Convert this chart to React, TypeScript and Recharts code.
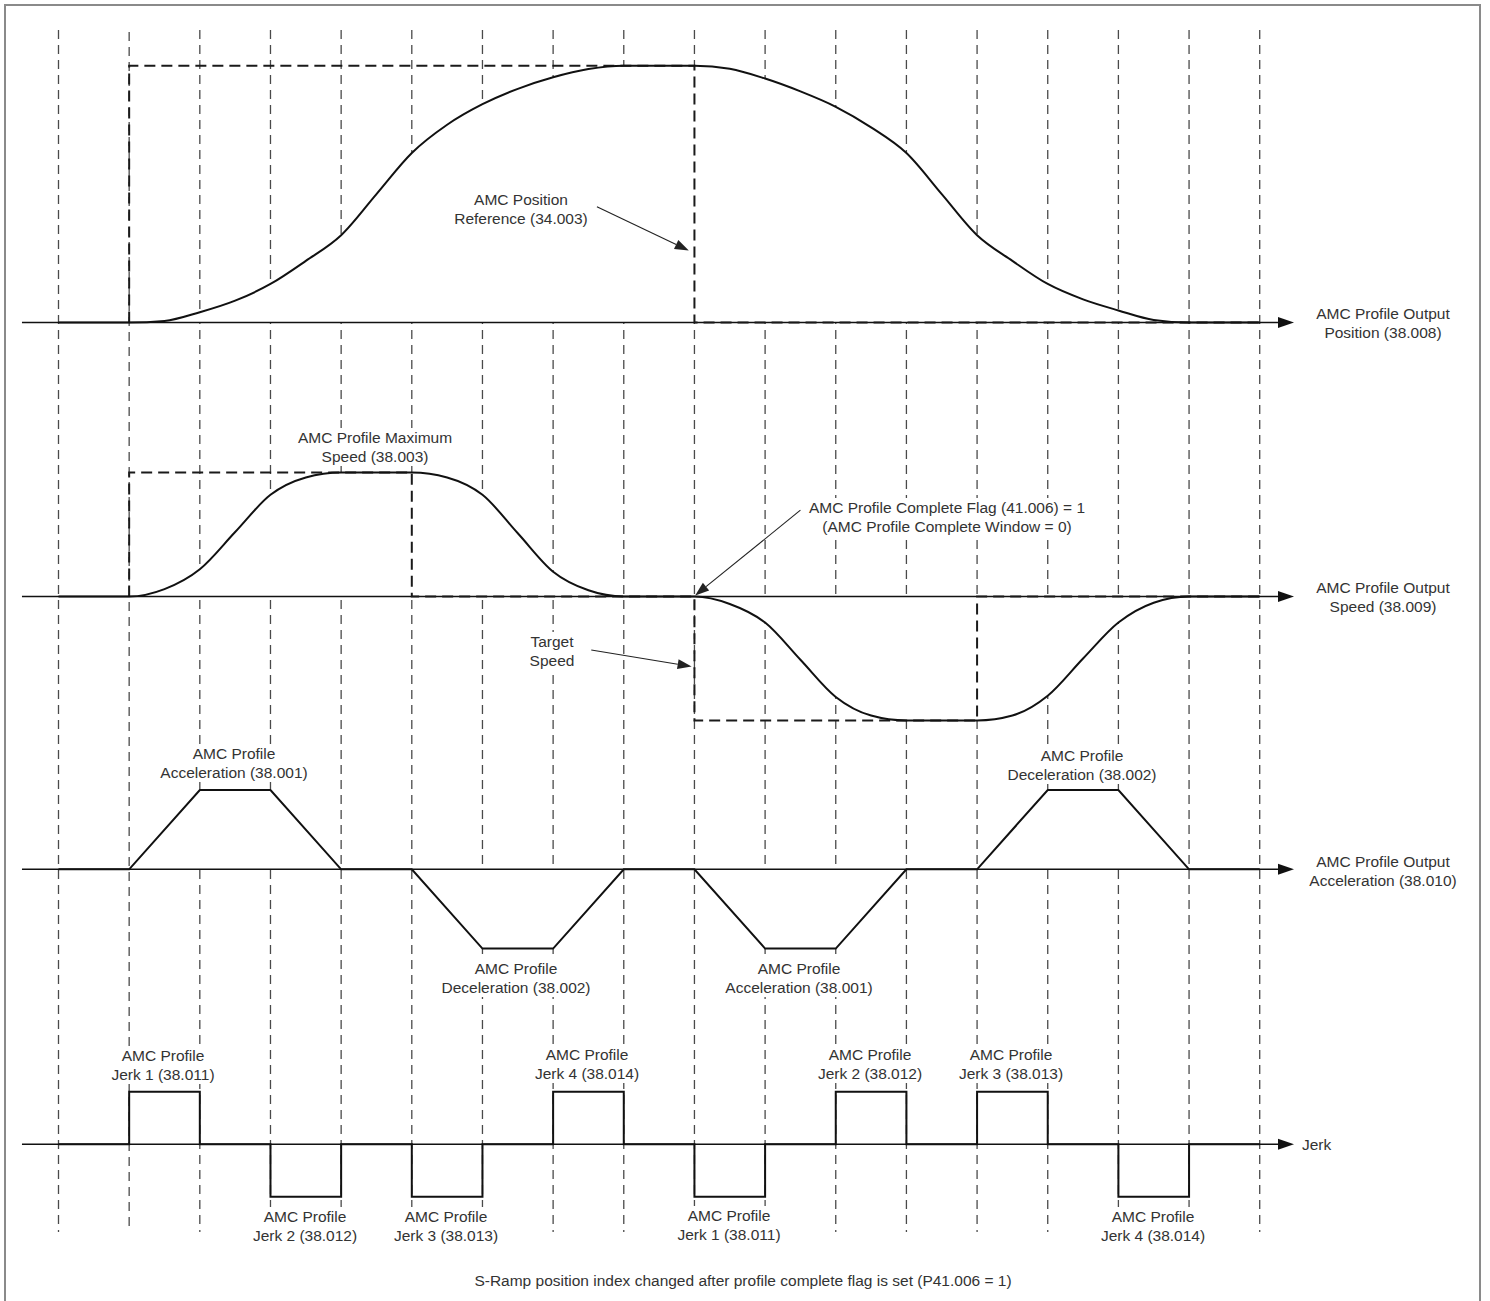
import { ComposedChart, Line, Area, XAxis, YAxis, ReferenceLine } from 'recharts';

const W = 1490;
const H = 1301;
const X0 = 58.5; // pixel of time slot 0
const STEP = 70.66; // pixels per time slot

// dashed time-slot guides
const slotTimes = [0, 1, 2, 3, 4, 5, 6, 7, 8, 9, 10, 11, 12, 13, 14, 15, 16, 17];

// AMC profile output position, % of the move
const posTime = [0, 1, 1.5, 2, 2.5, 3, 3.5, 4, 4.5, 5, 5.5, 6, 6.5, 7, 7.5, 8, 9, 9.5, 10, 10.5, 11, 11.5, 12, 12.5, 13, 13.5, 14, 14.5, 15, 15.5, 16, 17];
const posValue = [0, 0, 0.6, 4, 8.5, 15, 24, 34, 50, 66, 77, 85, 91, 95.5, 98.7, 100, 100, 98.8, 95, 90, 84, 76, 66, 50, 34, 24, 15, 9, 4.7, 1, 0, 0];

// AMC position reference (target)
const posRefTime = [1, 1, 9, 9, 17];
const posRefValue = [0, 100, 100, 0, 0];

// AMC profile output speed, % of max speed
const speedTime = [0, 1, 1.5, 2, 2.5, 3, 3.5, 4, 5, 5.5, 6, 6.5, 7, 7.5, 8, 9, 9.5, 10, 10.5, 11, 11.5, 12, 13, 13.5, 14, 14.5, 15, 15.5, 16, 17];
const speedValue = [0, 0, 6, 22, 52, 82, 96, 100, 100, 96, 82, 51, 20, 5, 0, 0, -6, -21, -51, -81, -96, -100, -100, -96, -80, -50, -21, -5, 0, 0];

// target speed
const speedTargetTime = [1, 1, 5, 5, 9, 9, 13, 13, 17];
const speedTargetValue = [0, 100, 100, 0, 0, -100, -100, 0, 0];

// AMC profile output acceleration
const accelTime = [0, 1, 2, 3, 4, 5, 6, 7, 8, 9, 10, 11, 12, 13, 14, 15, 16, 17];
const accelValue = [0, 0, 1, 1, 0, 0, -1, -1, 0, 0, -1, -1, 0, 0, 1, 1, 0, 0];

// jerk (step after each slot)
const jerkTime = [0, 1, 2, 3, 4, 5, 6, 7, 8, 9, 10, 11, 12, 13, 14, 15, 16, 17];
const jerkValue = [0, 1, 0, -1, 0, -1, 0, 1, 0, -1, 0, 1, 0, 1, 0, -1, 0, 0];

const rows = (t: number[], v: number[]) => t.map((x, i) => ({ t: x, v: v[i] }));

// each trace lives in its own horizontal band: baseline pixel + pixels per unit
const bands: Record<string, { base: number; px: number }> = {
  pos: { base: 322.5, px: 2.568 },
  speed: { base: 596.5, px: 1.24 },
  accel: { base: 869.3, px: 79.3 },
  jerk: { base: 1144.3, px: 52.5 },
};
const domainFor = (id: string): [number, number] => {
  const b = bands[id];
  return [-(H - b.base) / b.px, b.base / b.px];
};

const AXIS_START = -0.517;
const AXIS_END = 17.485;

const notes = [
  { x: 521, y: 199, lines: ['AMC Position', 'Reference (34.003)'] },
  { x: 1383, y: 313, lines: ['AMC Profile Output', 'Position (38.008)'] },
  { x: 375, y: 437, lines: ['AMC Profile Maximum', 'Speed (38.003)'] },
  { x: 947, y: 507, lines: ['AMC Profile Complete Flag (41.006) = 1', '(AMC Profile Complete Window = 0)'] },
  { x: 1383, y: 587, lines: ['AMC Profile Output', 'Speed (38.009)'] },
  { x: 552, y: 641, lines: ['Target', 'Speed'] },
  { x: 234, y: 753, lines: ['AMC Profile', 'Acceleration (38.001)'] },
  { x: 1082, y: 755, lines: ['AMC Profile', 'Deceleration (38.002)'] },
  { x: 1383, y: 861, lines: ['AMC Profile Output', 'Acceleration (38.010)'] },
  { x: 516, y: 968, lines: ['AMC Profile', 'Deceleration (38.002)'] },
  { x: 799, y: 968, lines: ['AMC Profile', 'Acceleration (38.001)'] },
  { x: 163, y: 1055, lines: ['AMC Profile', 'Jerk 1 (38.011)'] },
  { x: 587, y: 1054, lines: ['AMC Profile', 'Jerk 4 (38.014)'] },
  { x: 870, y: 1054, lines: ['AMC Profile', 'Jerk 2 (38.012)'] },
  { x: 1011, y: 1054, lines: ['AMC Profile', 'Jerk 3 (38.013)'] },
  { x: 305, y: 1216, lines: ['AMC Profile', 'Jerk 2 (38.012)'] },
  { x: 446, y: 1216, lines: ['AMC Profile', 'Jerk 3 (38.013)'] },
  { x: 729, y: 1215, lines: ['AMC Profile', 'Jerk 1 (38.011)'] },
  { x: 1153, y: 1216, lines: ['AMC Profile', 'Jerk 4 (38.014)'] },
  { x: 743, y: 1280, lines: ['S-Ramp position index changed after profile complete flag is set (P41.006 = 1)'] },
];

const FONT = '"Liberation Sans", Arial, Helvetica, sans-serif';
const FONT_SIZE = 15.5;

const arrow = (head: number, half: number, width: number, color: string) => (p: any) => {
  const { x1, y1, x2, y2 } = p;
  const dx = x2 - x1;
  const dy = y2 - y1;
  const len = Math.hypot(dx, dy) || 1;
  const ux = dx / len;
  const uy = dy / len;
  const bx = x2 - ux * head;
  const by = y2 - uy * head;
  const nx = -uy * half;
  const ny = ux * half;
  return (
    <g>
      <line x1={x1} y1={y1} x2={bx} y2={by} stroke={color} strokeWidth={width} />
      <polygon points={`${x2},${y2} ${bx + nx},${by + ny} ${bx - nx},${by - ny}`} fill={color} />
    </g>
  );
};

const axisArrow = arrow(16, 5.5, 1.6, '#111');
const noteArrow = arrow(14, 5, 1.1, '#222');

const layer: React.CSSProperties = { position: 'absolute', left: 0, top: 0 };
const xDomain: [number, number] = [-X0 / STEP, (W - X0) / STEP];

// background: the dashed time-slot guides only
const GuideChart = () => (
  <div style={layer}>
    <ComposedChart width={W} height={H} margin={{ top: 0, right: 0, bottom: 0, left: 0 }}>
      <XAxis dataKey="t" type="number" domain={xDomain} allowDataOverflow hide />
      <YAxis yAxisId="page" type="number" domain={[0, H]} reversed allowDataOverflow hide />
      {slotTimes.map((t) => (
        <ReferenceLine
          key={`g${t}`}
          yAxisId="page"
          segment={[{ x: t, y: t === 1 ? 32 : 30 }, { x: t, y: 1232 }]}
          stroke="#4a4a4a"
          strokeWidth={1.3}
          strokeDasharray="9 6"
          ifOverflow="visible"
        />
      ))}
    </ComposedChart>
  </div>
);

// foreground: white fill under the traces hides the guides, as in the original drawing
const TraceChart = () => (
  <div style={layer}>
    <ComposedChart width={W} height={H} margin={{ top: 0, right: 0, bottom: 0, left: 0 }}>
      <XAxis dataKey="t" type="number" domain={xDomain} allowDataOverflow hide />
      {Object.keys(bands).map((id) => (
        <YAxis key={id} yAxisId={id} type="number" domain={domainFor(id)} allowDataOverflow hide />
      ))}

      <Area yAxisId="pos" data={rows(posTime, posValue)} dataKey="v" type="monotone" stroke="none" fill="#fff" fillOpacity={1} baseValue={0} dot={false} activeDot={false} isAnimationActive={false} />
      <Area yAxisId="speed" data={rows(speedTime, speedValue)} dataKey="v" type="monotone" stroke="none" fill="#fff" fillOpacity={1} baseValue={0} dot={false} activeDot={false} isAnimationActive={false} />
      <Area yAxisId="accel" data={rows(accelTime, accelValue)} dataKey="v" type="linear" stroke="none" fill="#fff" fillOpacity={1} baseValue={0} dot={false} activeDot={false} isAnimationActive={false} />

      {Object.keys(bands).map((id) => (
        <ReferenceLine
          key={`a${id}`}
          yAxisId={id}
          segment={[{ x: AXIS_START, y: 0 }, { x: AXIS_END, y: 0 }]}
          shape={axisArrow}
          ifOverflow="visible"
        />
      ))}

      <Line yAxisId="pos" data={rows(posRefTime, posRefValue)} dataKey="v" type="linear" stroke="#1a1a1a" strokeWidth={2} strokeDasharray="11 6" dot={false} activeDot={false} isAnimationActive={false} />
      <Line yAxisId="pos" data={rows(posTime, posValue)} dataKey="v" type="monotone" stroke="#111" strokeWidth={2} dot={false} activeDot={false} isAnimationActive={false} />

      <Line yAxisId="speed" data={rows(speedTargetTime, speedTargetValue)} dataKey="v" type="linear" stroke="#1a1a1a" strokeWidth={2} strokeDasharray="11 6" dot={false} activeDot={false} isAnimationActive={false} />
      <Line yAxisId="speed" data={rows(speedTime, speedValue)} dataKey="v" type="monotone" stroke="#111" strokeWidth={2} dot={false} activeDot={false} isAnimationActive={false} />

      <Line yAxisId="accel" data={rows(accelTime, accelValue)} dataKey="v" type="linear" stroke="#111" strokeWidth={2} dot={false} activeDot={false} isAnimationActive={false} />

      <Line yAxisId="jerk" data={rows(jerkTime, jerkValue)} dataKey="v" type="stepAfter" stroke="#111" strokeWidth={2} dot={false} activeDot={false} isAnimationActive={false} />

      <ReferenceLine yAxisId="pos" segment={[{ x: 7.62, y: 45.1 }, { x: 8.92, y: 28 }]} shape={noteArrow} ifOverflow="visible" />
      <ReferenceLine yAxisId="speed" segment={[{ x: 10.5, y: 69.6 }, { x: 9.01, y: 0.8 }]} shape={noteArrow} ifOverflow="visible" />
      <ReferenceLine yAxisId="speed" segment={[{ x: 7.54, y: -43.2 }, { x: 8.96, y: -56.4 }]} shape={noteArrow} ifOverflow="visible" />
    </ComposedChart>
  </div>
);

const App = () => (
  <div style={{ position: 'absolute', left: 0, top: 0, width: W, height: H, overflow: 'hidden', background: '#fff' }}>
    <div
      style={{
        position: 'absolute', left: 4, top: 4, width: 1477, height: H + 10,
        border: '2px solid #8a8a8a', boxSizing: 'border-box',
      }}
    />
    <GuideChart />
    <TraceChart />

    {notes.map((n, i) => (
      <div
        key={i}
        style={{
          position: 'absolute', left: n.x, top: n.y - 9.5, transform: 'translateX(-50%)',
          whiteSpace: 'nowrap', textAlign: 'center', fontFamily: FONT, fontSize: FONT_SIZE,
          lineHeight: '19px', color: '#333', background: '#fff', pointerEvents: 'none',
        }}
      >
        {n.lines.map((l, j) => (
          <div key={j}>{l}</div>
        ))}
      </div>
    ))}
    <div
      style={{
        position: 'absolute', left: 1302, top: 1144 - 9.5, fontFamily: FONT, fontSize: FONT_SIZE,
        lineHeight: '19px', color: '#333', whiteSpace: 'nowrap',
      }}
    >
      Jerk
    </div>
  </div>
);

export default App;
